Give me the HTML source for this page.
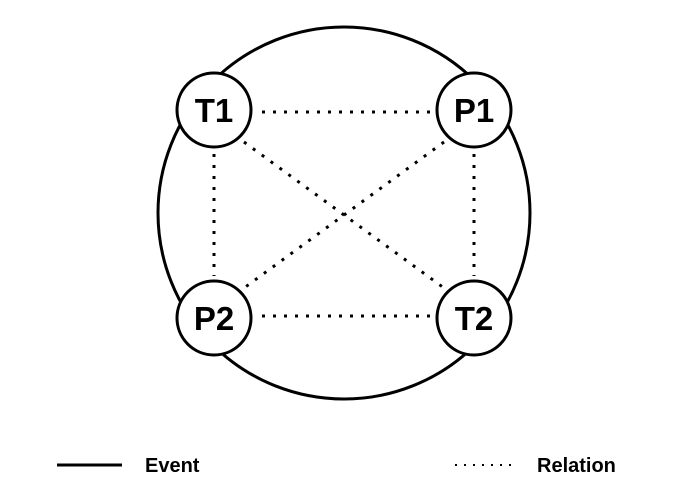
<!DOCTYPE html>
<html><head><style>body{margin:0;background:#fff}svg{display:block}</style></head><body>
<svg width="700" height="494" xmlns="http://www.w3.org/2000/svg" font-family="Liberation Sans, Arial, sans-serif" font-weight="bold">
<circle cx="344" cy="213" r="186" fill="none" stroke="#000" stroke-width="3"/>
<g stroke="#000" stroke-width="3" stroke-dasharray="3 8" fill="none">
<line x1="262" y1="112" x2="436" y2="112"/>
<line x1="262" y1="316" x2="436" y2="316"/>
<line x1="214" y1="154" x2="214" y2="276"/>
<line x1="474" y1="154" x2="474" y2="276"/>
<line x1="244" y1="142" x2="444" y2="288"/>
<line x1="444" y1="142" x2="244" y2="288"/>
</g>
<g stroke="#000" stroke-width="3" fill="#fff">
<circle cx="214" cy="110" r="37"/><circle cx="474" cy="110" r="37"/>
<circle cx="214" cy="318" r="37"/><circle cx="474" cy="318" r="37"/>
</g>
<g font-size="33" text-anchor="middle">
<text x="214" y="122">T1</text><text x="474" y="122">P1</text>
<text x="214" y="330">P2</text><text x="474" y="330">T2</text>
</g>
<line x1="57" y1="465" x2="122" y2="465" stroke="#000" stroke-width="3"/>
<text x="145" y="472" font-size="20">Event</text>
<line x1="455" y1="465" x2="518" y2="465" stroke="#000" stroke-width="2" stroke-dasharray="2 7"/>
<text x="537" y="472" font-size="20">Relation</text>
</svg>
</body></html>
